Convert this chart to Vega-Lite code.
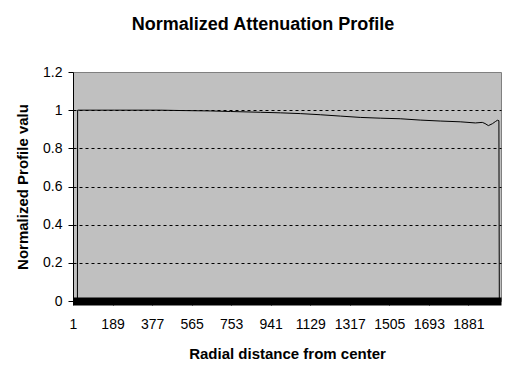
{
  "$schema": "https://vega.github.io/schema/vega-lite/v6.json",
  "width": 428,
  "height": 229,
  "autosize": {"type": "none"},
  "padding": {"left": 73, "top": 72, "right": 17, "bottom": 75},
  "background": "white",
  "title": {
    "text": "Normalized Attenuation Profile",
    "font": "Liberation Sans",
    "fontSize": 18,
    "fontWeight": "bold",
    "color": "black",
    "anchor": "middle",
    "frame": "group",
    "dx": -24,
    "offset": 31
  },
  "config": {
    "view": {"fill": "#c0c0c0", "stroke": "#808080", "strokeWidth": 1},
    "axis": {"labelFont": "Liberation Sans", "titleFont": "Liberation Sans", "labelColor": "black", "titleColor": "black"}
  },
  "data": {
    "values": [
      {"index": 1, "value": 0},
      {"index": 22, "value": 0},
      {"index": 23, "value": 1.0},
      {"index": 200, "value": 1.0},
      {"index": 416, "value": 1.0},
      {"index": 520, "value": 0.998},
      {"index": 654, "value": 0.996},
      {"index": 750, "value": 0.993},
      {"index": 892, "value": 0.989},
      {"index": 987, "value": 0.986},
      {"index": 1082, "value": 0.982},
      {"index": 1177, "value": 0.976},
      {"index": 1272, "value": 0.969},
      {"index": 1367, "value": 0.962},
      {"index": 1462, "value": 0.958},
      {"index": 1557, "value": 0.955},
      {"index": 1652, "value": 0.948},
      {"index": 1747, "value": 0.943},
      {"index": 1842, "value": 0.939},
      {"index": 1914, "value": 0.933},
      {"index": 1947, "value": 0.936},
      {"index": 1960, "value": 0.930},
      {"index": 1976, "value": 0.919},
      {"index": 1995, "value": 0.929},
      {"index": 2009, "value": 0.940},
      {"index": 2019, "value": 0.947},
      {"index": 2026, "value": 0.945},
      {"index": 2028, "value": 0},
      {"index": 2035, "value": 0}
    ]
  },
  "mark": {"type": "line", "color": "black", "strokeWidth": 1, "interpolate": "linear"},
  "encoding": {
    "x": {
      "field": "index",
      "type": "quantitative",
      "scale": {"domain": [1, 2036], "nice": false, "zero": false},
      "axis": {
        "values": [1, 189, 377, 565, 753, 941, 1129, 1317, 1505, 1693, 1881],
        "format": "d",
        "title": "Radial distance from center",
        "titleFontSize": 15,
        "titleFontWeight": "bold",
        "titlePadding": 15,
        "labelFontSize": 14,
        "labelFontWeight": "normal",
        "labelFlush": false,
        "labelOverlap": false,
        "labelPadding": 12,
        "domainColor": "black",
        "domainWidth": 8,
        "ticks": true,
        "tickSize": 4,
        "tickColor": "black",
        "grid": false,
        "zindex": 1
      }
    },
    "y": {
      "field": "value",
      "type": "quantitative",
      "scale": {"domain": [0, 1.2], "nice": false},
      "axis": {
        "values": [0, 0.2, 0.4, 0.6, 0.8, 1.0, 1.2],
        "format": "~g",
        "title": "Normalized Profile valu",
        "titleFontSize": 15,
        "titleFontWeight": "bold",
        "titlePadding": 12,
        "labelFontSize": 14,
        "labelPadding": 6,
        "tickSize": 5,
        "tickColor": "black",
        "domainColor": "black",
        "domainWidth": 1,
        "grid": true,
        "gridColor": {"condition": {"test": "datum.value >= 1.2 || datum.value <= 0", "value": "transparent"}, "value": "black"},
        "gridDash": [3, 3],
        "gridWidth": 1
      }
    }
  }
}
